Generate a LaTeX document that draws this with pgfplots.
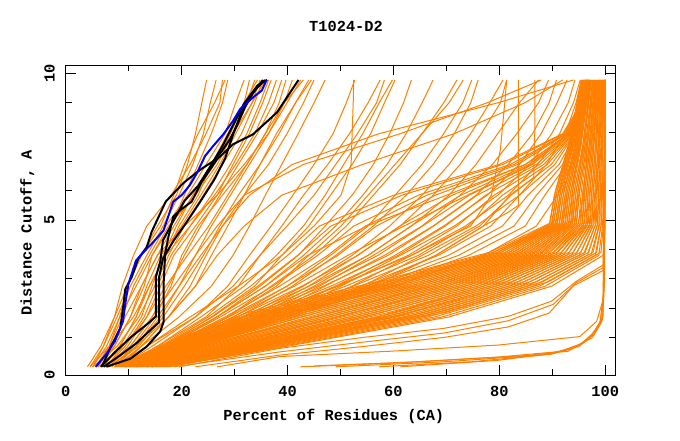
\documentclass[border=0pt]{standalone}
\usepackage{pgfplots}
\pgfplotsset{compat=1.18}
\usepackage{fontspec}
\setmainfont{Liberation Mono}
\definecolor{orng}{RGB}{255,128,0}
\definecolor{gblue}{RGB}{0,0,255}
\pgfplotsset{
  o/.style={color=orng, line width=0.75pt, mark=none, line join=round, forget plot},
  k/.style={color=black, line width=1.5pt, mark=none, line join=round, forget plot},
  b/.style={color=gblue, line width=1.5pt, mark=none, line join=round, forget plot},
}
\newcommand{\lf}{\bfseries\fontsize{11.5}{12}\selectfont}
\begin{document}
\begin{tikzpicture}
\path[use as bounding box] (-49.3pt,-48.75pt) rectangle (460.7pt,281.25pt);
\begin{axis}[
  at={(0,0)}, anchor=south west, scale only axis,
  width=412pt, height=232.5pt,
  xmin=-1.91, xmax=101.87, ymin=-0.28, ymax=10.29,
  xtick={20,40,60,80,100}, minor xtick={10,30,50,70,90},
  ytick={5,10}, minor ytick={1,2,3,4,6,7,8,9},
  extra x ticks={-1.91}, extra x tick labels={0},
  extra y ticks={-0.28}, extra y tick labels={0},
  extra x tick style={major tick length=0pt},
  extra y tick style={major tick length=0pt},
  major tick length=7.5pt, minor tick length=4.5pt,
  tick style={black, line width=0.75pt},
  axis line style={black, line width=0.75pt},
  tick align=inside,
  /pgf/number format/assume math mode=true,
  tick label style={font=\lf},
  xticklabel style={anchor=base}, xticklabel shift=16.3pt,
  yticklabel style={rotate=90, anchor=center}, yticklabel shift=12.2pt,
  xlabel={Percent of Residues (CA)},
  xlabel style={at={(axis description cs:0.488,-0.148)}, anchor=base, font=\lf},
  ylabel={Distance Cutoff, A},
  ylabel style={at={(axis description cs:-0.062,0.458)}, anchor=base, font=\lf},
  clip=false,
]
% ---------- core (dense) models ----------
\addplot[o] coordinates {(7.3,0)(16.5,0.7)(31.8,1.7)(56.2,2.75)(77.7,3.8)(89.4,4.8)(90.4,5.85)(93.0,7.4)(95.5,9.78)};
\addplot[o] coordinates {(7.6,0)(17.3,0.7)(33.1,1.7)(57.4,2.75)(78.5,3.8)(89.8,4.8)(90.7,5.85)(93.2,7.4)(95.7,9.78)};
\addplot[o] coordinates {(8.0,0)(18.1,0.7)(34.5,1.7)(58.5,2.75)(79.2,3.8)(90.1,4.8)(91.1,5.85)(93.5,7.4)(95.8,9.78)};
\addplot[o] coordinates {(9.8,0)(18.9,0.7)(35.8,1.7)(59.7,2.75)(80.0,3.8)(90.5,4.8)(91.4,5.85)(93.7,7.4)(96.0,9.78)};
\addplot[o] coordinates {(8.7,0)(19.7,0.7)(37.1,1.7)(60.8,2.75)(80.7,3.8)(90.8,4.8)(91.7,5.85)(94.6,7.4)(96.1,9.78)};
\addplot[o] coordinates {(9.1,0)(20.5,0.7)(37.5,1.7)(62.0,2.75)(81.5,3.8)(91.2,4.8)(92.1,5.85)(94.2,7.4)(96.3,9.78)};
\addplot[o] coordinates {(9.4,0)(21.3,0.7)(39.8,1.7)(63.2,2.75)(82.2,3.8)(91.6,4.8)(92.4,5.85)(94.4,7.4)(96.4,9.78)};
\addplot[o] coordinates {(8.4,0)(22.1,0.7)(41.1,1.7)(64.3,2.75)(83.0,3.8)(91.9,4.8)(92.7,5.85)(94.7,7.4)(96.6,9.78)};
\addplot[o] coordinates {(10.1,0)(23.0,0.7)(42.5,1.7)(65.5,2.75)(83.7,3.8)(92.3,4.8)(93.0,5.85)(94.9,7.4)(96.7,9.78)};
\addplot[o] coordinates {(10.5,0)(23.8,0.7)(45.0,1.7)(66.7,2.75)(84.5,3.8)(92.7,4.8)(93.4,5.85)(95.2,7.4)(96.9,9.78)};
\addplot[o] coordinates {(10.8,0)(24.6,0.7)(45.1,1.7)(67.8,2.75)(85.2,3.8)(93.0,4.8)(93.7,5.85)(95.0,7.4)(97.1,9.78)};
\addplot[o] coordinates {(11.2,0)(25.4,0.7)(46.5,1.7)(69.0,2.75)(86.0,3.8)(93.4,4.8)(94.0,5.85)(95.7,7.4)(97.2,9.78)};
\addplot[o] coordinates {(12.9,0)(26.2,0.7)(47.8,1.7)(70.1,2.75)(86.8,3.8)(93.7,4.8)(94.4,5.85)(95.9,7.4)(97.4,9.78)};
\addplot[o] coordinates {(11.9,0)(27.0,0.7)(49.1,1.7)(71.3,2.75)(87.5,3.8)(94.1,4.8)(94.7,5.85)(96.1,7.4)(97.0,9.78)};
\addplot[o] coordinates {(12.2,0)(27.8,0.7)(49.5,1.7)(72.5,2.75)(88.3,3.8)(94.5,4.8)(95.0,5.85)(96.4,7.4)(97.7,9.78)};
\addplot[o] coordinates {(12.6,0)(28.6,0.7)(51.8,1.7)(73.6,2.75)(89.0,3.8)(94.8,4.8)(95.9,5.85)(96.6,7.4)(97.8,9.78)};
\addplot[o] coordinates {(11.5,0)(29.4,0.7)(53.1,1.7)(74.8,2.75)(89.8,3.8)(95.2,4.8)(95.7,5.85)(96.9,7.4)(98.0,9.78)};
\addplot[o] coordinates {(13.3,0)(30.2,0.7)(54.5,1.7)(76.0,2.75)(90.5,3.8)(95.6,4.8)(96.0,5.85)(97.1,7.4)(98.1,9.78)};
\addplot[o] coordinates {(13.6,0)(31.0,0.7)(57.0,1.7)(77.1,2.75)(91.3,3.8)(95.9,4.8)(96.4,5.85)(97.3,7.4)(98.3,9.78)};
\addplot[o] coordinates {(14.0,0)(31.8,0.7)(57.1,1.7)(78.3,2.75)(92.0,3.8)(96.3,4.8)(96.7,5.85)(97.6,7.4)(98.9,9.78)};
\addplot[o] coordinates {(16.1,0)(32.6,0.7)(58.5,1.7)(79.4,2.75)(92.8,3.8)(96.6,4.8)(97.0,5.85)(97.8,7.4)(98.6,9.78)};
\addplot[o] coordinates {(14.7,0)(33.4,0.7)(59.8,1.7)(80.6,2.75)(93.6,3.8)(97.0,4.8)(97.4,5.85)(98.1,7.4)(98.8,9.78)};
\addplot[o] coordinates {(15.0,0)(34.2,0.7)(60.3,1.7)(81.8,2.75)(94.3,3.8)(97.4,4.8)(97.7,5.85)(98.3,7.4)(98.9,9.78)};
\addplot[o] coordinates {(15.4,0)(35.1,0.7)(62.5,1.7)(82.9,2.75)(95.1,3.8)(97.7,4.8)(98.0,5.85)(98.6,7.4)(99.1,9.78)};
\addplot[o] coordinates {(15.7,0)(35.9,0.7)(63.8,1.7)(84.1,2.75)(95.8,3.8)(98.1,4.8)(98.3,5.85)(98.8,7.4)(99.2,9.78)};
\addplot[o] coordinates {(14.3,0)(36.7,0.7)(65.2,1.7)(85.3,2.75)(96.6,3.8)(98.5,4.8)(98.7,5.85)(99.0,7.4)(99.4,9.78)};
\addplot[o] coordinates {(16.5,0)(37.5,0.7)(66.5,1.7)(86.4,2.75)(97.3,3.8)(98.8,4.8)(99.0,5.85)(99.3,7.4)(99.5,9.78)};
\addplot[o] coordinates {(16.8,0)(38.3,0.7)(67.8,1.7)(87.6,2.75)(98.1,3.8)(99.2,4.8)(99.3,5.85)(99.5,7.4)(99.7,9.78)};
\addplot[o] coordinates {(17.2,0)(39.1,0.7)(69.2,1.7)(88.7,2.75)(98.8,3.8)(99.5,4.8)(99.7,5.85)(99.8,7.4)(99.8,9.78)};
\addplot[o] coordinates {(17.5,0)(39.9,0.7)(70.5,1.7)(89.9,2.75)(99.6,3.8)(99.9,4.8)(100,5.85)(100,7.4)(100,9.78)};
% ---------- core, second set ----------
\addplot[o] coordinates {(7.5,0)(16.9,0.8)(32.5,1.85)(56.8,2.9)(78.1,3.9)(89.6,4.9)(90.6,6.0)(93.1,7.6)(95.6,9.78)};
\addplot[o] coordinates {(7.8,0)(17.7,0.8)(33.8,1.85)(57.9,2.9)(78.8,3.9)(90.0,4.9)(90.9,6.0)(93.4,7.6)(95.7,9.78)};
\addplot[o] coordinates {(8.2,0)(18.5,0.8)(35.1,1.85)(59.1,2.9)(79.6,3.9)(90.3,4.9)(91.2,6.0)(93.6,7.6)(95.9,9.78)};
\addplot[o] coordinates {(8.5,0)(19.3,0.8)(36.5,1.85)(60.3,2.9)(80.3,3.9)(90.7,4.9)(91.6,6.0)(93.8,7.6)(96.0,9.78)};
\addplot[o] coordinates {(8.9,0)(20.1,0.8)(37.8,1.85)(61.4,2.9)(81.1,3.9)(91.0,4.9)(91.9,6.0)(94.1,7.6)(96.2,9.78)};
\addplot[o] coordinates {(9.3,0)(20.9,0.8)(39.1,1.85)(62.6,2.9)(81.9,3.9)(91.4,4.9)(92.2,6.0)(94.3,7.6)(96.4,9.78)};
\addplot[o] coordinates {(9.6,0)(21.7,0.8)(40.5,1.85)(63.7,2.9)(82.6,3.9)(91.8,4.9)(92.6,6.0)(94.6,7.6)(96.5,9.78)};
\addplot[o] coordinates {(10.0,0)(22.6,0.8)(41.8,1.85)(64.9,2.9)(83.4,3.9)(92.1,4.9)(92.9,6.0)(94.8,7.6)(96.7,9.78)};
\addplot[o] coordinates {(10.3,0)(23.4,0.8)(43.1,1.85)(66.1,2.9)(84.1,3.9)(92.5,4.9)(93.2,6.0)(95.0,7.6)(96.8,9.78)};
\addplot[o] coordinates {(10.6,0)(24.2,0.8)(44.5,1.85)(67.2,2.9)(84.9,3.9)(92.8,4.9)(93.5,6.0)(95.3,7.6)(97.0,9.78)};
\addplot[o] coordinates {(11.0,0)(25.0,0.8)(45.8,1.85)(68.4,2.9)(85.6,3.9)(93.2,4.9)(93.9,6.0)(95.5,7.6)(97.1,9.78)};
\addplot[o] coordinates {(11.3,0)(25.8,0.8)(47.1,1.85)(69.6,2.9)(86.4,3.9)(93.6,4.9)(94.2,6.0)(95.8,7.6)(97.3,9.78)};
\addplot[o] coordinates {(11.7,0)(26.6,0.8)(48.5,1.85)(70.7,2.9)(87.1,3.9)(93.9,4.9)(94.5,6.0)(96.0,7.6)(97.4,9.78)};
\addplot[o] coordinates {(12.1,0)(27.4,0.8)(49.8,1.85)(71.9,2.9)(87.9,3.9)(94.3,4.9)(94.9,6.0)(96.3,7.6)(97.6,9.78)};
\addplot[o] coordinates {(12.4,0)(28.2,0.8)(51.1,1.85)(73.0,2.9)(88.6,3.9)(94.6,4.9)(95.2,6.0)(96.5,7.6)(97.7,9.78)};
\addplot[o] coordinates {(12.8,0)(29.0,0.8)(52.5,1.85)(74.2,2.9)(89.4,3.9)(95.0,4.9)(95.5,6.0)(96.7,7.6)(97.9,9.78)};
\addplot[o] coordinates {(13.1,0)(29.8,0.8)(53.8,1.85)(75.4,2.9)(90.2,3.9)(95.4,4.9)(95.8,6.0)(97.0,7.6)(98.1,9.78)};
\addplot[o] coordinates {(13.5,0)(30.6,0.8)(55.1,1.85)(76.5,2.9)(90.9,3.9)(95.7,4.9)(96.2,6.0)(97.2,7.6)(98.2,9.78)};
\addplot[o] coordinates {(13.8,0)(31.4,0.8)(56.5,1.85)(77.7,2.9)(91.7,3.9)(96.1,4.9)(96.5,6.0)(97.5,7.6)(98.4,9.78)};
\addplot[o] coordinates {(14.2,0)(32.2,0.8)(57.8,1.85)(78.9,2.9)(92.4,3.9)(96.5,4.9)(96.8,6.0)(97.7,7.6)(98.5,9.78)};
\addplot[o] coordinates {(14.5,0)(33.0,0.8)(59.1,1.85)(80.0,2.9)(93.2,3.9)(96.8,4.9)(97.2,6.0)(97.9,7.6)(98.7,9.78)};
\addplot[o] coordinates {(14.9,0)(33.8,0.8)(60.5,1.85)(81.2,2.9)(93.9,3.9)(97.2,4.9)(97.5,6.0)(98.2,7.6)(98.8,9.78)};
\addplot[o] coordinates {(15.2,0)(34.7,0.8)(61.8,1.85)(82.3,2.9)(94.7,3.9)(97.5,4.9)(97.8,6.0)(98.4,7.6)(99.0,9.78)};
\addplot[o] coordinates {(15.6,0)(35.5,0.8)(63.1,1.85)(83.5,2.9)(95.4,3.9)(97.9,4.9)(98.2,6.0)(98.7,7.6)(99.1,9.78)};
\addplot[o] coordinates {(15.9,0)(36.3,0.8)(64.5,1.85)(84.7,2.9)(96.2,3.9)(98.3,4.9)(98.5,6.0)(98.9,7.6)(99.3,9.78)};
\addplot[o] coordinates {(16.3,0)(37.1,0.8)(65.8,1.85)(85.8,2.9)(96.9,3.9)(98.6,4.9)(98.8,6.0)(99.2,7.6)(99.4,9.78)};
\addplot[o] coordinates {(16.6,0)(37.9,0.8)(67.2,1.85)(87.0,2.9)(97.7,3.9)(99.0,4.9)(99.1,6.0)(99.4,7.6)(99.6,9.78)};
\addplot[o] coordinates {(17.0,0)(38.7,0.8)(68.5,1.85)(88.2,2.9)(98.4,3.9)(99.3,4.9)(99.5,6.0)(99.6,7.6)(99.7,9.78)};
\addplot[o] coordinates {(17.3,0)(39.5,0.8)(69.8,1.85)(89.3,2.9)(99.2,3.9)(99.7,4.9)(99.8,6.0)(99.9,7.6)(99.9,9.78)};
% ---------- lines just below the core ----------
\addplot[o] coordinates {(18.5,0)(38.6,0.51)(54.2,0.84)(69.5,1.15)(81.7,1.57)(90.2,2.13)(94.5,2.86)(99.6,3.38)(100,4.83)(100,9.78)};
\addplot[o] coordinates {(19.5,0)(38.6,0.63)(54.2,1.0)(69.5,1.31)(81.7,1.72)(89.9,2.24)(94.5,2.91)(99.7,3.48)(100,9.78)};
\addplot[o] coordinates {(22.6,0)(38.6,0.4)(54.2,0.69)(69.5,1.0)(81.7,1.36)(89.4,1.83)(94.0,2.76)(99.6,3.28)(100,9.78)};
% ---------- bottom group ----------
\addplot[o] coordinates {(26.7,0)(38.6,0.35)(59.3,0.53)(79.7,0.74)(95.2,1.03)(98.4,1.55)(99.7,2.34)(100,9.78)};
\addplot[o] coordinates {(42.4,0)(59.3,0.12)(79.7,0.33)(92.0,0.53)(95.0,0.69)(97.1,0.98)(99.1,1.55)(99.7,2.55)(100,9.78)};
\addplot[o] coordinates {(49.1,0)(69.5,0.17)(87.9,0.4)(94.0,0.64)(97.6,1.0)(99.3,1.52)(99.8,2.76)(100,9.78)};
\addplot[o] coordinates {(57.3,0)(74.6,0.17)(89.9,0.43)(95.0,0.74)(97.9,1.1)(99.5,1.62)(99.9,2.97)(100,9.78)};
\addplot[o] coordinates {(45.0,0.03)(64.4,0.17)(84.8,0.38)(93.0,0.53)(96.5,0.9)(98.9,1.41)(99.6,2.24)(100,9.78)};
\addplot[o] coordinates {(61.3,0)(79.7,0.22)(90.9,0.48)(95.5,0.79)(98.1,1.21)(99.6,1.72)(100,9.78)};
% ---------- left cluster ----------
\addplot[o] coordinates {(2.2,0)(4.7,0.7)(7.3,1.7)(9.8,2.75)(12.4,3.8)(15.4,4.8)(19.0,5.85)(21.1,6.9)(22.6,7.95)(23.8,9)(24.7,9.78)};
\addplot[o] coordinates {(2.7,0)(5.2,0.7)(7.8,1.7)(10.3,2.75)(13.4,3.8)(16.5,4.8)(19.5,5.85)(22.1,6.9)(24.1,7.95)(25.4,9)(26.5,9.78)};
\addplot[o] coordinates {(3.2,0)(5.8,0.7)(8.3,1.7)(11.4,2.75)(14.4,3.8)(18.0,4.8)(20.5,5.85)(23.1,6.9)(25.6,7.95)(27.7,9)(28.7,9.78)};
\addplot[o] coordinates {(3.7,0)(6.3,0.7)(8.8,1.7)(10.9,2.75)(13.9,3.8)(17.0,4.8)(21.1,5.85)(24.6,6.9)(28.2,7.95)(30.2,9)(31.8,9.78)};
\addplot[o] coordinates {(4.2,0)(6.8,0.7)(9.3,1.7)(12.4,2.75)(15.4,3.8)(18.5,4.8)(22.1,5.85)(26.2,6.9)(29.2,7.95)(31.8,9)(32.8,9.78)};
\addplot[o] coordinates {(4.7,0)(7.3,0.7)(10.3,1.7)(12.9,2.75)(14.4,3.8)(17.5,4.8)(22.6,5.85)(26.7,6.9)(29.7,7.95)(32.3,9)(33.8,9.78)};
\addplot[o] coordinates {(2.7,0)(6.3,0.7)(10.9,1.7)(13.9,2.75)(17.0,3.8)(19.5,4.8)(23.1,5.85)(25.6,6.9)(28.7,7.95)(31.8,9)(34.3,9.78)};
\addplot[o] coordinates {(5.2,0)(8.3,0.7)(11.4,1.7)(13.4,2.75)(16.0,3.8)(20.0,4.8)(23.6,5.85)(27.2,6.9)(30.2,7.95)(33.3,9)(34.8,9.78)};
\addplot[o] coordinates {(3.2,0)(7.8,0.7)(11.9,1.7)(14.9,2.75)(17.5,3.8)(20.5,4.8)(24.1,5.85)(27.7,6.9)(31.3,7.95)(33.8,9)(35.3,9.78)};
\addplot[o] coordinates {(5.8,0)(8.8,0.7)(12.4,1.7)(14.4,2.75)(16.5,3.8)(19.0,4.8)(22.1,5.85)(25.6,6.9)(29.7,7.95)(33.3,9)(35.8,9.78)};
\addplot[o] coordinates {(4.2,0)(9.3,0.7)(12.9,1.7)(15.4,2.75)(18.0,3.8)(21.6,4.8)(25.6,5.85)(29.2,6.9)(32.3,7.95)(34.8,9)(36.4,9.78)};
\addplot[o] coordinates {(6.3,0)(9.8,0.7)(13.4,1.7)(16.0,2.75)(18.5,3.8)(22.6,4.8)(26.7,5.85)(29.7,6.9)(32.8,7.95)(35.3,9)(36.9,9.78)};
\addplot[o] coordinates {(4.7,0)(8.3,0.7)(11.4,1.7)(13.9,2.75)(17.0,3.8)(21.6,4.8)(26.2,5.85)(30.2,6.9)(33.8,7.95)(36.4,9)(37.9,9.78)};
\addplot[o] coordinates {(5.2,0)(10.3,0.7)(14.4,1.7)(17.5,2.75)(20.5,3.8)(23.6,4.8)(27.2,5.85)(30.7,6.9)(34.3,7.95)(37.4,9)(38.9,9.78)};
\addplot[o] coordinates {(6.8,0)(10.9,0.7)(14.9,1.7)(18.0,2.75)(20.0,3.8)(23.1,4.8)(27.7,5.85)(32.3,6.9)(35.8,7.95)(38.4,9)(39.7,9.78)};
\addplot[o] coordinates {(3.7,0)(7.3,0.7)(10.3,1.7)(12.4,2.75)(15.4,3.8)(20.5,4.8)(26.7,5.85)(31.8,6.9)(36.4,7.95)(39.4,9)(40.9,9.78)};
\addplot[o] coordinates {(7.3,0)(11.4,0.7)(16.0,1.7)(19.5,2.75)(22.6,3.8)(25.6,4.8)(29.2,5.85)(32.8,6.9)(36.4,7.95)(39.9,9)(42.5,9.78)};
\addplot[o] coordinates {(5.8,0)(9.3,0.7)(13.4,1.7)(17.0,2.75)(21.1,3.8)(25.1,4.8)(28.7,5.85)(32.3,6.9)(35.8,7.95)(39.4,9)(43.0,9.78)};
\addplot[o] coordinates {(6.3,0)(11.9,0.7)(16.5,1.7)(20.5,2.75)(24.1,3.8)(27.2,4.8)(30.7,5.85)(34.8,6.9)(38.4,7.95)(41.5,9)(44.0,9.78)};
\addplot[o] coordinates {(7.8,0)(12.4,0.7)(17.5,1.7)(21.6,2.75)(24.6,3.8)(27.7,4.8)(31.8,5.85)(36.4,6.9)(39.9,7.95)(43.0,9)(45.0,9.78)};
\addplot[o] coordinates {(3.2,0)(5.2,0.7)(7.3,1.7)(8.8,2.75)(10.9,3.8)(13.4,4.8)(18.0,5.85)(21.6,6.9)(24.6,7.95)(27.2,9)(27.7,9.78)};
\addplot[o] coordinates {(4.2,0)(6.3,0.7)(8.3,1.7)(9.8,2.75)(12.4,3.8)(16.0,4.8)(18.5,5.85)(20.5,6.9)(23.1,7.95)(26.2,9)(28.2,9.78)};
% ---------- middle group ----------
\addplot[o] coordinates {(6.3,0)(11.4,0.7)(17.5,1.7)(22.6,2.75)(25.6,3.8)(28.7,4.8)(31.8,5.85)(34.8,6.9)(37.9,7.95)(41.5,9)(44.5,9.78)};
\addplot[o] coordinates {(7.3,0)(12.4,0.7)(19.5,1.7)(25.6,2.75)(29.7,3.8)(32.8,4.8)(35.8,5.85)(38.9,6.9)(42.0,7.95)(45.0,9)(47.1,9.78)};
\addplot[o] coordinates {(8.3,0)(13.4,0.7)(21.6,1.7)(30.7,2.75)(38.9,3.8)(45.0,4.8)(50.1,5.85)(52.0,6.9)(52.2,7.95)(52.4,9)(52.5,9.78)};
\addplot[o] coordinates {(7.3,0)(13.4,0.7)(22.6,1.7)(28.7,2.75)(32.8,3.8)(36.9,4.8)(41.0,5.85)(45.0,6.9)(48.6,7.95)(51.1,9)(52.7,9.78)};
\addplot[o] coordinates {(8.3,0)(14.4,0.7)(22.6,1.7)(29.7,2.75)(34.8,3.8)(38.9,4.8)(43.0,5.85)(47.6,6.9)(51.7,7.95)(55.2,9)(57.5,9.78)};
\addplot[o] coordinates {(9.3,0)(15.4,0.7)(24.6,1.7)(30.7,2.75)(34.8,3.8)(39.9,4.8)(45.0,5.85)(49.1,6.9)(53.2,7.95)(56.8,9)(58.3,9.78)};
\addplot[o] coordinates {(8.3,0)(15.4,0.7)(23.6,1.7)(31.8,2.75)(37.9,3.8)(43.0,4.8)(47.1,5.85)(50.6,6.9)(54.2,7.95)(57.3,9)(59.8,9.78)};
\addplot[o] coordinates {(9.3,0)(16.5,0.7)(25.6,1.7)(33.8,2.75)(38.9,3.8)(44.0,4.8)(48.1,5.85)(52.2,6.9)(55.7,7.95)(58.3,9)(60.3,9.78)};
\addplot[o] coordinates {(10.3,0)(17.5,0.7)(26.7,1.7)(34.8,2.75)(42.0,3.8)(47.1,4.8)(52.2,5.85)(56.2,6.9)(59.3,7.95)(61.9,9)(63.4,9.78)};
\addplot[o] coordinates {(9.3,0)(16.5,0.7)(26.7,1.7)(35.8,2.75)(43.0,3.8)(49.1,4.8)(54.2,5.85)(58.8,6.9)(62.4,7.95)(65.4,9)(67.5,9.78)};
\addplot[o] coordinates {(10.3,0)(17.5,0.7)(28.7,1.7)(36.9,2.75)(45.0,3.8)(51.1,4.8)(56.2,5.85)(61.3,6.9)(65.4,7.95)(69.5,9)(72.0,9.78)};
\addplot[o] coordinates {(10.3,0)(18.5,0.7)(28.7,1.7)(37.9,2.75)(44.0,3.8)(50.1,4.8)(55.2,5.85)(60.3,6.9)(65.4,7.95)(70.5,9)(73.2,9.78)};
\addplot[o] coordinates {(10.3,0)(18.5,0.7)(29.7,1.7)(39.9,2.75)(48.1,3.8)(55.2,4.8)(60.3,5.85)(65.4,6.9)(69.5,7.95)(73.1,9)(74.8,9.78)};
\addplot[o] coordinates {(11.4,0)(19.5,0.7)(30.7,1.7)(40.9,2.75)(49.1,3.8)(56.2,4.8)(62.4,5.85)(67.5,6.9)(71.5,7.95)(74.6,9)(76.0,9.78)};
\addplot[o] coordinates {(11.4,0)(19.5,0.7)(31.8,1.7)(43.0,2.75)(52.2,3.8)(59.3,4.8)(65.4,5.85)(70.5,6.9)(74.6,7.95)(78.2,9)(80.7,9.78)};
\addplot[o] coordinates {(11.4,0)(20.5,0.7)(32.8,1.7)(44.0,2.75)(53.2,3.8)(61.3,4.8)(67.5,5.85)(72.6,6.9)(76.6,7.95)(80.2,9)(81.4,9.78)};
\addplot[o] coordinates {(12.4,0)(20.5,0.7)(33.8,1.7)(45.0,2.75)(55.2,3.8)(63.4,4.8)(70.5,5.85)(75.6,6.9)(79.7,7.95)(83.8,9)(87.4,9.78)};
\addplot[o] coordinates {(12.4,0)(21.6,0.7)(34.8,1.7)(46.0,2.75)(56.2,3.8)(65.4,4.8)(72.6,5.85)(78.7,6.9)(83.3,7.95)(87.4,9)(89.3,9.78)};
\addplot[o] coordinates {(13.4,0)(21.6,0.7)(35.8,1.7)(47.1,2.75)(58.3,3.8)(67.5,4.8)(75.6,5.85)(81.7,6.9)(86.3,7.95)(89.4,9)(90.8,9.78)};
\addplot[o] coordinates {(13.4,0)(22.6,0.7)(36.9,1.7)(49.1,2.75)(60.3,3.8)(69.5,4.8)(77.7,5.85)(83.8,6.9)(87.9,7.95)(90.9,9)(92.8,9.78)};
\addplot[o] coordinates {(12.4,0)(22.6,0.7)(37.9,1.7)(50.1,2.75)(61.3,3.8)(71.5,4.8)(79.7,5.85)(85.8,6.9)(89.9,7.95)(93.0,9)(94.3,9.78)};
\addplot[o] coordinates {(13.4,0)(23.6,0.7)(38.9,1.7)(52.2,2.75)(63.4,3.8)(73.6,4.8)(81.7,5.85)(87.3,6.9)(91.4,7.95)(94.0,9)(95.3,9.78)};
\addplot[o] coordinates {(14.4,0)(23.6,0.7)(39.9,1.7)(54.2,2.75)(65.4,3.8)(75.6,4.8)(83.8,5.85)(88.9,6.9)(92.5,7.95)(94.5,9)(95.5,9.78)};
\addplot[o] coordinates {(14.4,0)(23.6,0.7)(41.0,1.7)(56.0,2.75)(68.0,3.8)(77.0,4.8)(81.5,5.25)(83.6,5.5)(83.6,7)(83.6,9.78)};
\addplot[o] coordinates {(13.4,0)(22.6,0.7)(40.0,1.7)(55.0,2.75)(68.0,3.8)(77.0,4.8)(82.0,5.85)(86.5,6.45)(86.7,8)(86.7,9.78)};
\addplot[o] coordinates {(11.4,0)(20.5,0.7)(34.8,1.7)(49.1,2.75)(63.4,3.8)(74.6,4.8)(78.5,5.85)(80.2,7.4)(81.0,8.95)(81.4,9.78)};
% ---------- upper fan into the right block ----------
\addplot[o] coordinates {(9.0,0)(16.0,0.7)(25.0,1.7)(33.0,2.75)(40.0,3.8)(46.0,4.8)(60.0,5.85)(80.0,6.9)(92.0,7.95)(95.5,9)(96.0,9.78)};
\addplot[o] coordinates {(9.2,0)(16.3,0.7)(25.8,1.7)(34.4,2.75)(41.9,3.8)(48.2,4.8)(61.6,5.85)(80.7,6.9)(92.2,7.95)(95.6,9)(96.1,9.78)};
\addplot[o] coordinates {(9.3,0)(16.6,0.7)(26.6,1.7)(35.8,2.75)(43.8,3.8)(55.0,4.8)(70.0,5.85)(85.0,6.9)(93.1,7.95)(95.9,9)(96.4,9.78)};
\addplot[o] coordinates {(9.5,0)(16.9,0.7)(27.3,1.7)(37.2,2.75)(45.7,3.8)(52.5,4.8)(64.7,5.85)(82.1,6.9)(92.5,7.95)(95.7,9)(96.2,9.78)};
\addplot[o] coordinates {(9.6,0)(17.3,0.7)(28.2,1.7)(38.5,2.75)(47.6,3.8)(54.7,4.8)(66.3,5.85)(82.8,6.9)(92.6,7.95)(95.7,9)(96.2,9.78)};
\addplot[o] coordinates {(9.8,0)(17.6,0.7)(28.9,1.7)(39.9,2.75)(49.5,3.8)(56.8,4.8)(67.9,5.85)(83.5,6.9)(92.8,7.95)(95.8,9)(96.3,9.78)};
\addplot[o] coordinates {(9.9,0)(17.9,0.7)(29.7,1.7)(41.3,2.75)(51.4,3.8)(62.0,4.8)(74.0,5.85)(86.0,6.9)(92.9,7.95)(95.8,9)(96.3,9.78)};
\addplot[o] coordinates {(10.1,0)(18.2,0.7)(30.5,1.7)(42.7,2.75)(53.3,3.8)(61.2,4.8)(71.1,5.85)(84.9,6.9)(93.1,7.95)(95.9,9)(96.4,9.78)};
\addplot[o] coordinates {(10.3,0)(18.5,0.7)(31.3,1.7)(44.1,2.75)(55.2,3.8)(63.3,4.8)(72.7,5.85)(85.6,6.9)(93.2,7.95)(95.9,9)(96.4,9.78)};
\addplot[o] coordinates {(10.4,0)(18.8,0.7)(32.0,1.7)(45.5,2.75)(57.1,3.8)(65.5,4.8)(74.3,5.85)(86.3,6.9)(93.4,7.95)(96.0,9)(96.5,9.78)};
\addplot[o] coordinates {(10.6,0)(19.2,0.7)(32.9,1.7)(46.8,2.75)(59.0,3.8)(67.6,4.8)(75.8,5.85)(87.0,6.9)(93.6,7.95)(96.0,9)(96.5,9.78)};
\addplot[o] coordinates {(10.7,0)(19.5,0.7)(33.7,1.7)(48.2,2.75)(60.9,3.8)(69.8,4.8)(77.4,5.85)(87.7,6.9)(93.7,7.95)(96.1,9)(96.6,9.78)};
\addplot[o] coordinates {(10.9,0)(19.8,0.7)(34.4,1.7)(49.6,2.75)(62.8,3.8)(72.0,4.8)(79.0,5.85)(88.4,6.9)(93.9,7.95)(96.1,9)(96.6,9.78)};
\addplot[o] coordinates {(11.0,0)(20.1,0.7)(35.2,1.7)(51.0,2.75)(64.7,3.8)(74.1,4.8)(80.6,5.85)(89.1,6.9)(94.0,7.95)(96.2,9)(96.7,9.78)};
\addplot[o] coordinates {(11.2,0)(20.4,0.7)(36.0,1.7)(52.4,2.75)(66.6,3.8)(76.3,4.8)(82.2,5.85)(89.8,6.9)(94.2,7.95)(96.2,9)(96.7,9.78)};
\addplot[o] coordinates {(11.4,0)(20.7,0.7)(36.8,1.7)(53.8,2.75)(68.5,3.8)(78.4,4.8)(83.8,5.85)(90.5,6.9)(94.3,7.95)(96.3,9)(96.8,9.78)};
\addplot[o] coordinates {(11.5,0)(21.1,0.7)(37.6,1.7)(55.1,2.75)(70.4,3.8)(80.6,4.8)(85.4,5.85)(91.3,6.9)(94.5,7.95)(96.3,9)(96.8,9.78)};
\addplot[o] coordinates {(11.7,0)(21.4,0.7)(38.4,1.7)(56.5,2.75)(72.3,3.8)(82.8,4.8)(87.0,5.85)(92.0,6.9)(94.7,7.95)(96.4,9)(96.9,9.78)};
\addplot[o] coordinates {(11.8,0)(21.7,0.7)(39.2,1.7)(57.9,2.75)(74.2,3.8)(84.9,4.8)(88.6,5.85)(92.7,6.9)(94.8,7.95)(96.4,9)(96.9,9.78)};
\addplot[o] coordinates {(12.0,0)(22.0,0.7)(40.0,1.7)(60.0,2.75)(77.0,3.8)(87.0,4.8)(91.0,5.85)(93.5,6.9)(95.0,7.95)(96.5,9)(97.0,9.78)};
\addplot[o] coordinates {(7.3,0)(11.4,0.7)(15.4,1.7)(19.5,2.75)(23.6,3.8)(27.7,4.8)(32.8,5.85)(40.9,6.9)(57.3,7.95)(79.7,9)(94.0,9.78)};
\addplot[o] coordinates {(6.3,0)(10.3,0.7)(14.4,1.7)(18.5,2.75)(22.6,3.8)(26.7,4.8)(31.8,5.85)(43.0,6.9)(61.3,7.95)(77.7,9)(87.9,9.78)};
\addplot[o] coordinates {(8.3,0)(12.4,0.7)(17.5,1.7)(22.6,2.75)(26.7,3.8)(31.8,4.8)(38.9,5.85)(54.2,6.9)(71.5,7.95)(84.8,9)(92.0,9.78)};
% ---------- black models ----------
\addplot[k] coordinates {(4.9,0)(6.46,0.63)(8.4,1.32)(9.01,2.13)(9.32,2.64)(10.54,3.05)(11.77,3.68)(13.4,4.08)(14.32,4.6)(16.97,5.63)(20.34,6.27)(23.5,6.72)(25.95,7.01)(27.58,7.35)(29.11,7.76)(30.43,8.22)(31.96,8.85)(33.49,9.37)(35.74,9.78)};
\addplot[k] coordinates {(4.73,0)(7.28,0.48)(10.34,1.0)(13.91,1.52)(15.13,1.72)(15.13,3.07)(15.95,3.59)(16.46,4.31)(17.99,4.83)(20.54,5.66)(23.09,6.17)(25.64,6.9)(27.68,7.52)(29.72,8.24)(31.76,8.97)(34.31,9.59)(36.15,9.78)};
\addplot[k] coordinates {(5.24,0)(8.3,0.38)(11.36,0.79)(14.42,1.31)(15.75,1.52)(15.75,3.07)(16.46,3.69)(18.5,4.31)(20.54,4.83)(23.6,5.66)(26.15,6.38)(28.19,7.1)(29.72,7.93)(31.25,8.66)(33.29,9.28)(35.33,9.78)};
\addplot[k] coordinates {(5.75,0)(10.34,0.28)(13.4,0.69)(15.95,1.21)(16.56,1.52)(16.56,2.76)(16.87,3.86)(17.48,4.42)(18.4,5.12)(19.72,5.34)(21.87,5.63)(23.8,6.31)(26.66,7.07)(29.72,7.59)(33.49,7.93)(37.98,8.67)(42.06,9.78)};
% ---------- blue model ----------
\addplot[b] coordinates {(3.77,0)(5.85,0.46)(7.38,0.87)(8.91,1.55)(9.32,2.13)(9.93,2.82)(11.36,3.62)(12.79,3.91)(14.62,4.25)(16.56,4.65)(18.4,5.63)(20.03,5.86)(21.56,6.2)(22.89,6.61)(24.42,7.19)(25.95,7.53)(27.88,7.93)(29.72,8.39)(31.05,8.79)(33.49,9.19)(35.13,9.42)(36.04,9.78)};
\end{axis}
\node[font=\lf, anchor=center] at (210.2pt,261.75pt) {T1024-D2};
\end{tikzpicture}
\end{document}
